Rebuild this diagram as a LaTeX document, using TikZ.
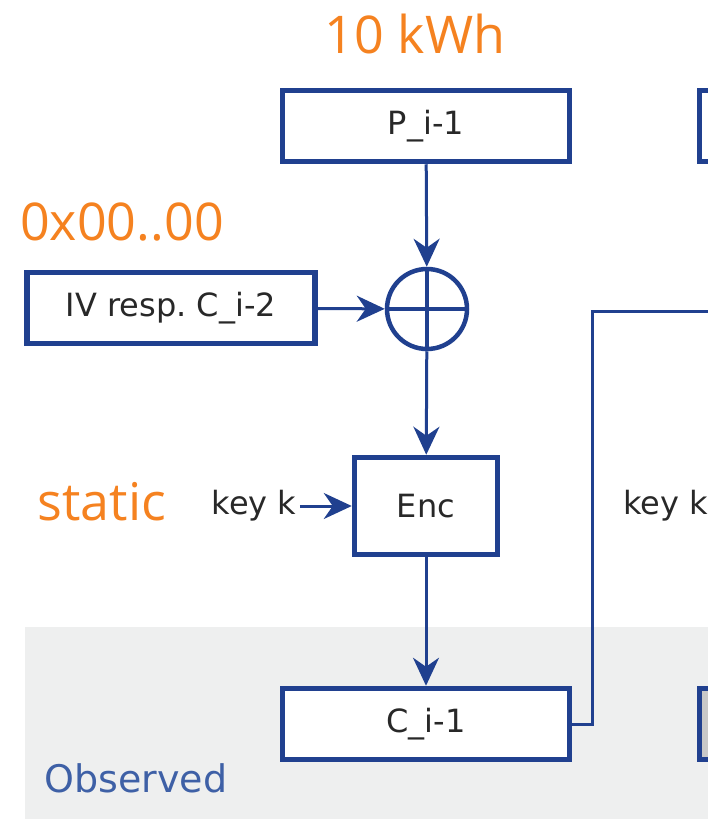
\documentclass[tikz,border=0pt]{standalone}
\usepackage{fontspec}
\setmainfont{DejaVu Sans}
\newfontfamily\notefont{Open Sans}
\usetikzlibrary{arrows.meta}
\definecolor{encblue}{RGB}{32,64,143}
\definecolor{noteorange}{RGB}{245,130,32}
\definecolor{obsblue}{RGB}{62,96,166}
\definecolor{obsgray}{RGB}{238,239,239}
\definecolor{nextgray}{RGB}{200,200,200}
\definecolor{txtgray}{RGB}{40,40,40}

\begin{document}
\begin{tikzpicture}[x=1pt,y=-1pt]
\tikzset{blk/.style={draw=encblue,line width=5.5pt,fill=white,minimum width=287pt,minimum height=71pt,inner sep=0pt,text=txtgray,font=\fontsize{32}{38}\selectfont},
  note/.style={text=noteorange,font=\notefont\fontsize{52}{60}\selectfont},
  lbl/.style={text=txtgray,font=\fontsize{32}{38}\selectfont},
  flow/.style={draw=encblue,line width=3pt,-{Stealth[length=28pt,width=26pt,inset=9pt]}}}
\useasboundingbox (0,0) rectangle (708,819);
\clip (0,0) rectangle (708,819);
\fill[obsgray] (25,627) rectangle (708,819);

\path (426,126) node[blk] (p) {P\_i-1};
\path (171,308) node[blk,minimum width=288pt] (iv) {IV resp.\ C\_i-2};
\path (427,309) node[circle,draw=encblue,line width=4.5pt,minimum size=80pt,inner sep=0pt] (x) {};
\path (426,506) node[blk,minimum width=143pt,minimum height=97pt] (enc) {Enc};
\path (426,724) node[blk] (c) {C\_i-1};
\path (254,506) node[lbl] (keyl) {key k};

\path (843,126) node[blk] (pnext) {};
\path (843,724) node[blk,fill=nextgray] (cnext) {};
\path (620,506) node[lbl,anchor=west] (keyr) {key k};
\coordinate (xnext) at (760,311);

\draw[encblue,line width=4.5pt] (x.north) -- (x.south) (x.west) -- (x.east);
\draw[flow] (p) -- (x);
\draw[flow] (iv) -- (x);
\draw[flow] (x) -- (enc);
\draw[flow] (keyl) -- (enc);
\draw[flow] (enc) -- (c);
\draw[encblue,line width=3pt] (c.east) -- ++(20,0) |- (xnext);

\node[note] (kwh) at (415,34) {10 kWh};
\node[note] (ivval) at (122,222) {0x00..00};
\node[note] (stat) at (102,502) {static};
\node[text=obsblue,font=\fontsize{38}{44}\selectfont] (obs) at (136,778) {Observed};
\end{tikzpicture}
\end{document}
